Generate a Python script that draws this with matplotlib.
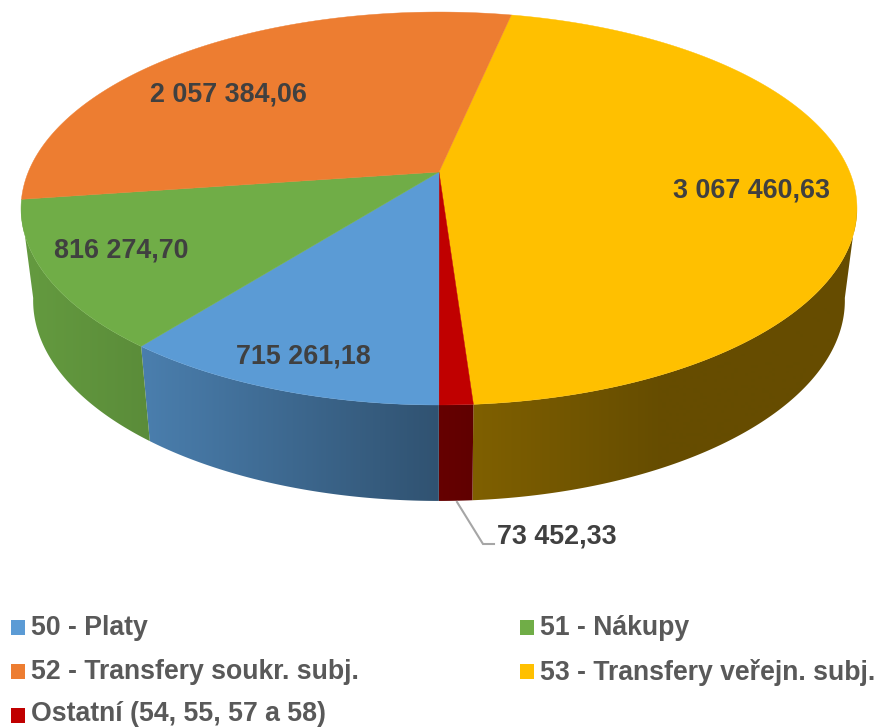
import numpy as np
import matplotlib
matplotlib.use("Agg")
from matplotlib import pyplot as plt
from matplotlib.patches import Polygon, Rectangle

plt.rcParams['font.family'] = ['Liberation Sans', 'DejaVu Sans']

# Slices in clockwise drawing order
categories = ["53 - Transfery veřejn. subj.", "Ostatní (54, 55, 57 a 58)", "50 - Platy",
              "51 - Nákupy", "52 - Transfery soukr. subj."]
values = [3067460.63, 73452.33, 715261.18, 816274.70, 2057384.06]
colors = ["#FFC000", "#C00000", "#5B9BD5", "#70AD47", "#ED7D31"]

legend_order = ["50 - Platy", "51 - Nákupy", "52 - Transfery soukr. subj.",
                "53 - Transfery veřejn. subj.", "Ostatní (54, 55, 57 a 58)"]

# Projection of the pie disc, in pixels
CX, CY = 439, 172
A, B, P = 410.7, 189.7, 0.1858
START = 12.0
TOP_MID, LOW_MID = 208, 300
LOW_SX, LOW_SY = 0.971, 1.02
# the wall is only seen between the two side extremes of the disc
WALL_FROM, WALL_TO = 100, 260


def project(theta):
    # theta is in degrees, clockwise from 12 o'clock
    t = np.radians(theta)
    u, v = np.sin(t), -np.cos(t)
    w = 1 - P * v
    return CX + A * u / w, CY + B * v / w


def lower(x, y):
    return CX + LOW_SX * (x - CX), LOW_MID + LOW_SY * (y - TOP_MID)


def shade(x):
    # side wall gets darker towards the right
    return np.interp(x, [30, 148, 439, 472, 660, 860], [0.89, 0.81, 0.53, 0.5, 0.4, 0.4])


fig = plt.figure(figsize=(8.79, 7.27), dpi=100)
ax = fig.add_axes([0, 0, 1, 1])
ax.axis('off')

sweeps = np.array(values) / sum(values) * 360
ends = START + np.cumsum(sweeps)
starts = ends - sweeps

# Side wall first: horizontal gradient clipped to each slice
xs = np.arange(880)
for s, e, c in zip(starts, ends, colors):
    s2, e2 = max(s, WALL_FROM), min(e, WALL_TO)
    if e2 <= s2:
        continue
    th = np.linspace(s2, e2, 200)
    x, y = project(th)
    lx, ly = lower(x, y)
    pts = list(zip(x, y)) + list(zip(lx[::-1], ly[::-1]))
    poly = Polygon(pts, closed=True, facecolor='none', edgecolor='none', transform=ax.transData)
    ax.add_patch(poly)
    rgb = np.array(matplotlib.colors.to_rgb(c))
    grad = (shade(xs)[:, None] * rgb)[None, :, :]
    im = ax.imshow(grad, extent=(0, 879, 727, 0), aspect='auto', interpolation='bilinear')
    im.set_clip_path(poly)

ax.set_xlim(0, 879)
ax.set_ylim(727, 0)

# Top face
for s, e, c in zip(starts, ends, colors):
    th = np.linspace(s, e, max(int(e - s) * 2, 4))
    x, y = project(th)
    pts = [(CX, CY)] + list(zip(x, y))
    ax.add_patch(Polygon(pts, closed=True, facecolor=c, edgecolor=c, lw=0.3))

# Data labels
label_pos = [(752, 191), (557, 536), (303, 357), (121, 250), (228, 94)]
for val, (lx_, ly_) in zip(values, label_pos):
    txt = f"{val:,.2f}".replace(",", " ").replace(".", ",")
    ax.text(lx_, ly_, txt, fontsize=19.4, fontweight='bold', color="#404040",
            ha='center', va='center')

# Leader line of the small slice
ax.plot([457, 483, 494], [502, 544, 544], color="#A6A6A6", lw=1.5, solid_joinstyle='miter')

# Legend
legend_pos = [(11, 627), (520, 627), (11, 671), (520, 671), (11, 715)]
for name, (lg_x, lg_y) in zip(legend_order, legend_pos):
    c = colors[categories.index(name)]
    ax.add_patch(Rectangle((lg_x, lg_y - 7), 14.5, 14.5, facecolor=c, edgecolor='none'))
    ax.text(lg_x + 20, min(lg_y + 1, 714), name, fontsize=19.2, fontweight='bold', color="#595959",
            ha='left', va='center')

fig.savefig("out.png", dpi=100)
